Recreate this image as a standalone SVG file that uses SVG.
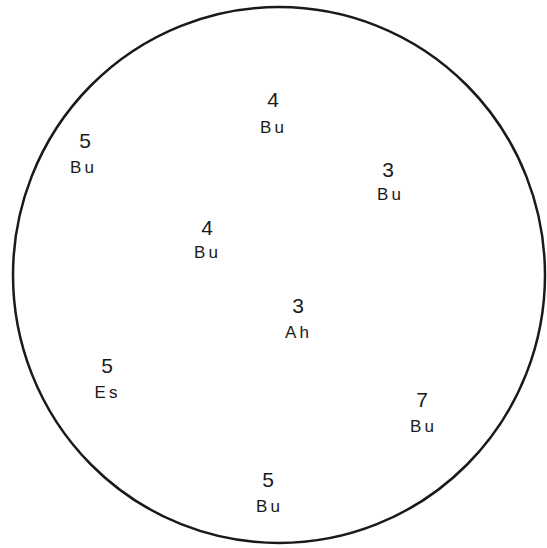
<svg xmlns="http://www.w3.org/2000/svg" width="547" height="548" viewBox="0 0 547 548">
<style>
.d{font-family:"Liberation Sans",Arial,sans-serif;font-size:21px;fill:#1a1a1a;text-anchor:middle}
.l{font-family:"Liberation Sans",Arial,sans-serif;font-size:17px;fill:#1a1a1a;text-anchor:middle;letter-spacing:3px}
</style>
<rect width="547" height="548" fill="#fff"/>
<ellipse id="boundary" cx="279" cy="275" rx="266" ry="268" fill="none" stroke="#1a1a1a" stroke-width="2.5"/>
<g id="n1"><text class="d" x="273" y="107">4</text><text class="l" x="273.5" y="133">Bu</text></g>
<g id="n2"><text class="d" x="85" y="148">5</text><text class="l" x="83.5" y="173">Bu</text></g>
<g id="n3"><text class="d" x="388" y="177">3</text><text class="l" x="390.5" y="200">Bu</text></g>
<g id="n4"><text class="d" x="207" y="235">4</text><text class="l" x="207.5" y="258">Bu</text></g>
<g id="n5"><text class="d" x="298" y="313">3</text><text class="l" x="298.5" y="338">Ah</text></g>
<g id="n6"><text class="d" x="107" y="373">5</text><text class="l" x="107.5" y="398">Es</text></g>
<g id="n7"><text class="d" x="422" y="407">7</text><text class="l" x="423.5" y="432">Bu</text></g>
<g id="n8"><text class="d" x="268" y="487">5</text><text class="l" x="269.5" y="512">Bu</text></g>
<g id="connectors"></g>
</svg>
